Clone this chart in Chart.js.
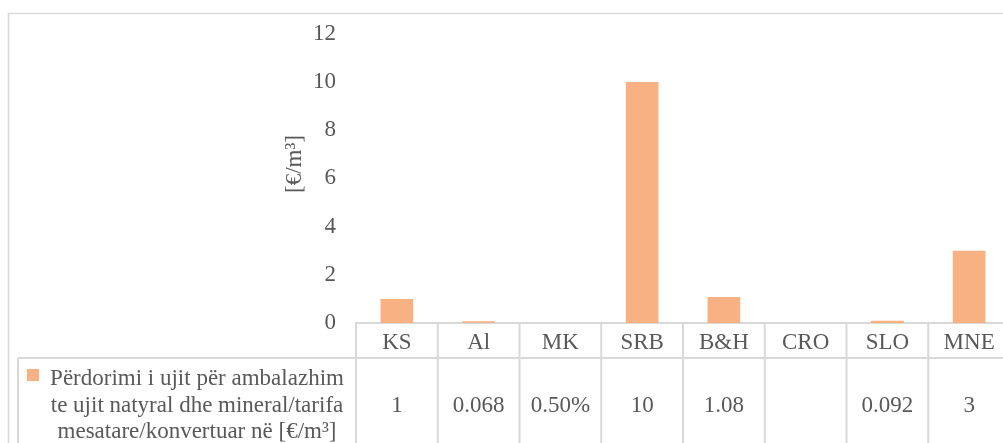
<!DOCTYPE html>
<html>
<head>
<meta charset="utf-8">
<script src="https://cdn.jsdelivr.net/npm/chart.js@4"></script>
<style>
  html, body { margin: 0; padding: 0; background: #fff; overflow: hidden; }
  #wrap { position: relative; width: 1012px; height: 443px; }
</style>
</head>
<body>
<div id="wrap"><canvas id="chart"></canvas></div>
<script>
// data
const countries = ['KS', 'Al', 'MK', 'SRB', 'B&H', 'CRO', 'SLO', 'MNE'];
const tariffs = [1, 0.068, 0.005, 10, 1.08, null, 0.092, 3];
const tableLabels = ['1', '0.068', '0.50%', '10', '1.08', '', '0.092', '3'];
const seriesName = ['Përdorimi i ujit për ambalazhim', 'te ujit natyral dhe mineral/tarifa', 'mesatare/konvertuar në [€/m³]'];
const yTicks = [0, 2, 4, 6, 8, 10, 12];

const textColor = '#595959';
const lineColor = '#D9D9D9';
const barColor = '#F8B183';
const fontFamily = "'Liberation Serif', 'Times New Roman', serif";
const fontSize = 23;

Chart.defaults.font.family = fontFamily;
Chart.defaults.font.size = fontSize;
Chart.defaults.color = textColor;

// draws the outer frame and the data table under the plot
const dataTable = {
  id: 'dataTable',
  afterDraw(chart) {
    const ctx = chart.ctx;
    const x = chart.scales.x;
    const top = x.top;
    const headH = 35;
    const rowTop = top + headH;
    const bottom = chart.height + 5;
    const colW = x.width / countries.length;
    const legLeft = 18;

    ctx.save();
    ctx.strokeStyle = lineColor;

    // outer chart frame
    ctx.lineWidth = 1.5;
    ctx.strokeRect(8.5, 13.5, chart.width + 20, chart.height + 20);

    ctx.lineWidth = 2;
    ctx.beginPath();
    // header bottom line / legend cell top
    ctx.moveTo(legLeft, rowTop);
    ctx.lineTo(x.right, rowTop);
    // legend cell left side
    ctx.moveTo(legLeft, rowTop);
    ctx.lineTo(legLeft, bottom);
    // column separators
    for (let i = 0; i <= countries.length; i++) {
      const px = x.left + i * colW;
      ctx.moveTo(px, top);
      ctx.lineTo(px, bottom);
    }
    ctx.stroke();

    // values row
    ctx.fillStyle = textColor;
    ctx.font = fontSize + 'px ' + fontFamily;
    ctx.textAlign = 'center';
    ctx.textBaseline = 'alphabetic';
    tableLabels.forEach((t, i) => {
      ctx.fillText(t, x.getPixelForValue(i), rowTop + 54);
    });

    // legend key + series name
    ctx.fillStyle = barColor;
    ctx.fillRect(27, rowTop + 11, 12, 12);
    ctx.fillStyle = textColor;
    seriesName.forEach((line, i) => {
      ctx.fillText(line, 197, rowTop + 27 + i * 26.5);
    });
    ctx.restore();
  }
};

new Chart(document.getElementById('chart'), {
  type: 'bar',
  data: {
    labels: countries,
    datasets: [{
      label: seriesName.join(' '),
      data: tariffs,
      backgroundColor: barColor,
      categoryPercentage: 1,
      barPercentage: 0.4
    }]
  },
  options: {
    responsive: true,
    maintainAspectRatio: false,
    animation: false,
    layout: { padding: { left: 277, top: 30, right: 2, bottom: 0 } },
    plugins: {
      legend: { display: false },
      tooltip: { enabled: false }
    },
    scales: {
      x: {
        grid: { display: false, drawTicks: false },
        border: { display: true, color: lineColor, width: 2 },
        ticks: { padding: 6, maxRotation: 0, autoSkip: false },
        afterFit(scale) { scale.height = 120; }
      },
      y: {
        min: 0,
        max: 12,
        afterBuildTicks(scale) { scale.ticks = yTicks.map(v => ({ value: v })); },
        grid: { display: false, drawTicks: false },
        border: { display: false },
        ticks: { padding: 20 },
        title: {
          display: true,
          text: '\u00A0\u00A0\u00A0\u00A0\u00A0[€/m³]',
          font: { size: fontSize },
          color: textColor
        },
        afterFit(scale) { scale.width = 79; }
      }
    }
  },
  plugins: [dataTable]
});
</script>
</body>
</html>
